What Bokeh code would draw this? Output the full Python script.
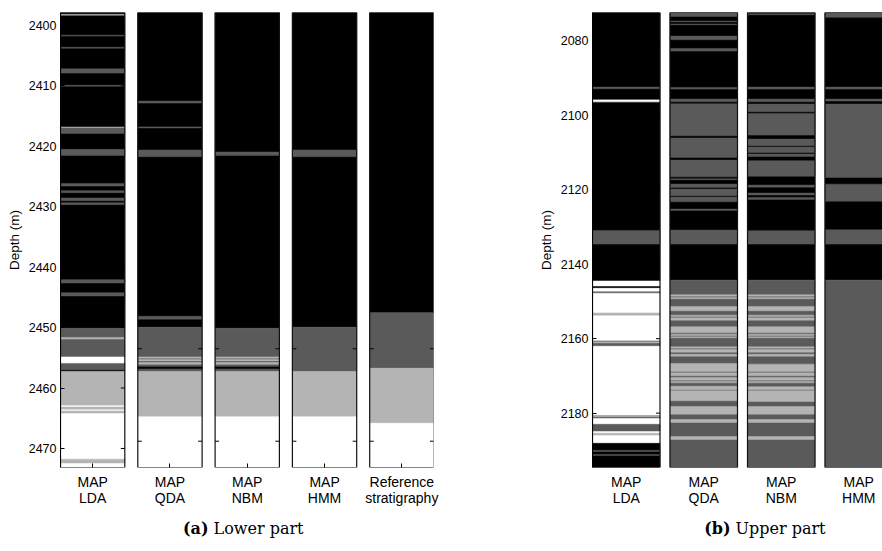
from bokeh.plotting import figure
from bokeh.layouts import row, column
from bokeh.models import Range1d, FixedTicker
from bokeh.core.properties import value
from bokeh.embed import file_html
from bokeh.resources import INLINE

# facies codes: 0 black, 1 dark grey, 2 light grey, 3 white
FACIES_COLORS = ["#000000", "#5a5a5a", "#b4b4b4", "#ffffff"]

TOP_A, BOT_A = 2397.85, 2473.15
TOP_B, BOT_B = 2072.4, 2194.6

labels_a = ["MAP\nLDA", "MAP\nQDA", "MAP\nNBM", "MAP\nHMM", "Reference\nstratigraphy"]
labels_b = ["MAP\nLDA", "MAP\nQDA", "MAP\nNBM", "MAP\nHMM"]
yticks_a = [2400, 2410, 2420, 2430, 2440, 2450, 2460, 2470]
yticks_b = [2080, 2100, 2120, 2140, 2160, 2180]
col_ticks_a = [2453.5, 2468.8]
captions = [("(a)", "Lower part"), ("(b)", "Upper part")]

# (top depth, bottom depth, facies) -- painted in order
lda_a = [
    (TOP_A, 2450.11, 0), (2450.11, 2454.85, 1), (2454.85, 2455.92, 3),
    (2455.92, 2457.05, 1), (2457.05, 2457.27, 0), (2457.27, 2462.95, 2),
    (2462.95, BOT_A, 3),
    (2398.15, 2398.3, 2), (2401.6, 2401.75, 1), (2403.6, 2403.75, 1),
    (2407.17, 2407.88, 1), (2409.9, 2410.05, 1), (2416.8, 2416.98, 2),
    (2416.98, 2417.86, 1), (2420.5, 2421.5, 1), (2426.13, 2426.57, 1),
    (2427.34, 2427.67, 1), (2428.55, 2428.99, 1), (2429.32, 2429.65, 1),
    (2442.06, 2442.61, 1), (2444.21, 2444.76, 1), (2451.62, 2451.9, 2),
    (2463.15, 2463.5, 2), (2463.8, 2464.15, 2), (2471.77, 2472.4, 2),
]
qda_a = [
    (TOP_A, 2449.94, 0), (2449.94, 2457.27, 1), (2457.27, 2464.77, 2),
    (2464.77, BOT_A, 3),
    (2412.51, 2412.84, 1), (2416.78, 2416.95, 1), (2420.61, 2421.72, 1),
    (2448.12, 2448.6, 1), (2454.85, 2455.07, 2), (2455.29, 2455.51, 2),
    (2455.79, 2456.06, 2), (2456.5, 2456.78, 0),
]
nbm_a = [
    (TOP_A, 2450.11, 0), (2450.11, 2457.27, 1), (2457.27, 2464.77, 2),
    (2464.77, BOT_A, 3),
    (2420.94, 2421.5, 1), (2454.85, 2455.07, 2), (2455.29, 2455.51, 2),
    (2455.79, 2456.06, 2), (2456.5, 2456.78, 0),
]
hmm_a = [
    (TOP_A, 2449.94, 0), (2449.94, 2457.27, 1), (2457.27, 2464.77, 2),
    (2464.77, BOT_A, 3),
    (2420.61, 2421.72, 1),
]
ref_a = [
    (TOP_A, 2447.52, 0), (2447.52, 2456.72, 1), (2456.72, 2465.82, 2),
    (2465.82, BOT_A, 3),
]

lda_b = [
    (TOP_B, 2144.5, 0), (2144.5, 2188.1, 3), (2188.1, BOT_B, 0),
    (2092.44, 2092.88, 1), (2095.75, 2096.55, 1), (2095.93, 2096.29, 3),
    (2130.93, 2134.6, 1), (2146.0, 2146.3, 0), (2147.4, 2147.7, 1),
    (2153.1, 2153.7, 2), (2160.6, 2161.9, 1), (2160.85, 2161.15, 2),
    (2180.7, 2181.3, 1), (2180.7, 2181.0, 2), (2183.0, 2184.8, 1),
    (2185.4, 2185.9, 2), (2190.0, 2190.3, 1), (2191.1, 2191.4, 1),
]
qda_b = [
    (TOP_B, 2144.28, 0), (2144.28, BOT_B, 1),
    (2072.56, 2073.46, 1), (2074.71, 2074.89, 1), (2075.51, 2075.69, 1),
    (2078.74, 2079.72, 1), (2082.05, 2082.77, 1), (2092.53, 2092.97, 1),
    (2095.66, 2096.38, 1), (2096.91, 2105.51, 1), (2106.13, 2111.33, 1),
    (2112.04, 2116.52, 1), (2117.06, 2117.33, 1), (2118.49, 2119.38, 1),
    (2119.83, 2121.62, 1), (2121.98, 2123.23, 1), (2125.2, 2125.56, 1),
    (2130.84, 2134.6, 1),
    (2148.22, 2148.58, 2), (2148.94, 2149.3, 2), (2151.35, 2152.52, 2),
    (2153.68, 2154.04, 2), (2154.4, 2155.02, 2), (2156.81, 2158.43, 2),
    (2158.79, 2159.14, 2), (2159.5, 2159.77, 2), (2162.19, 2162.55, 2),
    (2162.9, 2163.62, 2), (2164.16, 2164.69, 2), (2166.66, 2168.81, 2),
    (2169.17, 2169.98, 2), (2170.42, 2171.14, 2), (2171.5, 2171.86, 2),
    (2172.75, 2173.74, 2), (2174.0, 2176.69, 2), (2178.21, 2180.27, 2),
    (2181.71, 2182.51, 2), (2186.27, 2187.08, 2),
]
nbm_b = [
    (TOP_B, 2144.28, 0), (2144.28, BOT_B, 1),
    (2072.74, 2073.0, 1), (2092.44, 2092.97, 1), (2095.66, 2096.38, 1),
    (2097.0, 2099.06, 1), (2099.5, 2105.33, 1), (2106.4, 2108.2, 1),
    (2108.55, 2110.0, 1), (2110.4, 2111.06, 1), (2112.2, 2116.4, 1),
    (2118.76, 2119.3, 1), (2120.9, 2121.4, 1), (2122.07, 2122.6, 1),
    (2131.0, 2134.6, 1),
    (2148.22, 2148.58, 2), (2148.94, 2149.3, 2), (2151.35, 2152.52, 2),
    (2153.68, 2154.04, 2), (2154.4, 2155.02, 2), (2156.81, 2158.43, 2),
    (2158.79, 2159.14, 2), (2159.5, 2159.77, 2), (2162.19, 2162.55, 2),
    (2162.9, 2163.62, 2), (2164.16, 2164.69, 2), (2166.84, 2168.81, 2),
    (2169.17, 2169.98, 2), (2170.42, 2171.14, 2), (2171.5, 2171.86, 2),
    (2172.9, 2173.74, 2), (2174.0, 2176.86, 2), (2178.21, 2180.27, 2),
    (2181.71, 2182.51, 2), (2186.27, 2187.08, 2),
]
hmm_b = [
    (TOP_B, 2144.28, 0), (2144.28, BOT_B, 1),
    (2072.56, 2073.7, 1), (2092.44, 2092.97, 1), (2095.66, 2096.2, 1),
    (2097.0, 2116.7, 1), (2118.5, 2123.1, 1), (2130.75, 2134.6, 1),
]

SANS = "Liberation Sans"
SERIF = "DejaVu Serif"


def make_panel(columns, labels, top, bot, yticks, stride, colw, x_end,
               frame_w, border_left, border_right, col_ticks, bottom_ticks):
    p = figure(frame_width=frame_w, frame_height=455,
               min_border_left=border_left, min_border_right=border_right,
               min_border_top=12, min_border_bottom=44,
               x_range=Range1d(0, x_end), y_range=Range1d(bot, top),
               output_backend="svg", toolbar_location=None)
    p.outline_line_color = None
    p.grid.visible = False
    p.background_fill_color = "white"
    p.border_fill_color = "white"

    for i, segs in enumerate(columns):
        x0 = i * stride
        p.quad(left=[x0] * len(segs), right=[x0 + colw] * len(segs),
               top=[s[0] for s in segs], bottom=[s[1] for s in segs],
               fill_color=[FACIES_COLORS[s[2]] for s in segs],
               line_color=[FACIES_COLORS[s[2]] for s in segs],
               line_width=0.5)
        p.quad(left=[x0], right=[x0 + colw], top=[top], bottom=[bot],
               fill_color=None, line_color="#111111", line_width=1.2)
        # inward tick marks of each column
        if i == 0:
            ys = yticks
            p.segment(x0=[x0 + colw - 4] * len(ys), x1=[x0 + colw] * len(ys),
                      y0=ys, y1=ys, line_color="black", line_width=1)
        elif col_ticks:
            ys = col_ticks
            p.segment(x0=[x0] * len(ys), x1=[x0 + 4] * len(ys),
                      y0=ys, y1=ys, line_color="black", line_width=1)
            p.segment(x0=[x0 + colw - 4] * len(ys), x1=[x0 + colw] * len(ys),
                      y0=ys, y1=ys, line_color="black", line_width=1)

    yax = p.yaxis[0]
    yax.ticker = FixedTicker(ticks=yticks)
    yax.axis_label = "Depth (m)"
    yax.axis_label_text_font = SANS
    yax.axis_label_text_font_size = "13.5px"
    yax.axis_label_text_font_style = "normal"
    yax.axis_label_text_color = "black"
    yax.axis_label_standoff = 4
    yax.major_label_text_font = SANS
    yax.major_label_text_font_size = "12.5px"
    yax.major_label_text_color = "black"
    yax.major_label_standoff = 4
    yax.major_tick_in = 4
    yax.major_tick_out = 0
    yax.minor_tick_line_color = None
    yax.axis_line_color = "black"

    xax = p.xaxis[0]
    centers = [i * stride + colw / 2 for i in range(len(labels))]
    xax.ticker = FixedTicker(ticks=centers)
    xax.major_label_overrides = {c: l for c, l in zip(centers, labels)}
    xax.major_label_text_font = SANS
    xax.major_label_text_font_size = "14px"
    xax.major_label_text_color = "black"
    xax.major_label_text_line_height = 1.0
    xax.major_label_standoff = 6
    xax.major_tick_in = 4 if bottom_ticks else 0
    xax.major_tick_out = 0
    xax.minor_tick_line_color = None
    xax.axis_line_color = None
    return p


pa = make_panel([lda_a, qda_a, nbm_a, hmm_a, ref_a], labels_a, TOP_A, BOT_A,
                yticks_a, 77.3, 64.3, 373, 373, 60, 60, col_ticks_a, True)
pb = make_panel([lda_b, qda_b, nbm_b, hmm_b], labels_b, TOP_B, BOT_B,
                yticks_b, 77.5, 67.5, 290, 290, 99, 0, None, False)

# caption strip below both panels
cap = figure(width=882, height=28, x_range=Range1d(0, 882), y_range=Range1d(0, 28),
             min_border=0, x_axis_location=None, y_axis_location=None,
             output_backend="svg", toolbar_location=None)
cap.outline_line_color = None
cap.grid.visible = False
cap_x = [208, 730]
cap.text(x=cap_x, y=[11, 11], text=[c[0] for c in captions],
         text_font=value(SERIF), text_font_style="bold", text_font_size="16px",
         text_align="right", text_baseline="middle", text_color="black")
cap.text(x=[x + 5 for x in cap_x], y=[11, 11], text=[c[1] for c in captions],
         text_font=value(SERIF), text_font_size="16px",
         text_align="left", text_baseline="middle", text_color="black")

layout = column(row(pa, pb), cap)
open("out.html", "w").write(file_html(layout, INLINE))
